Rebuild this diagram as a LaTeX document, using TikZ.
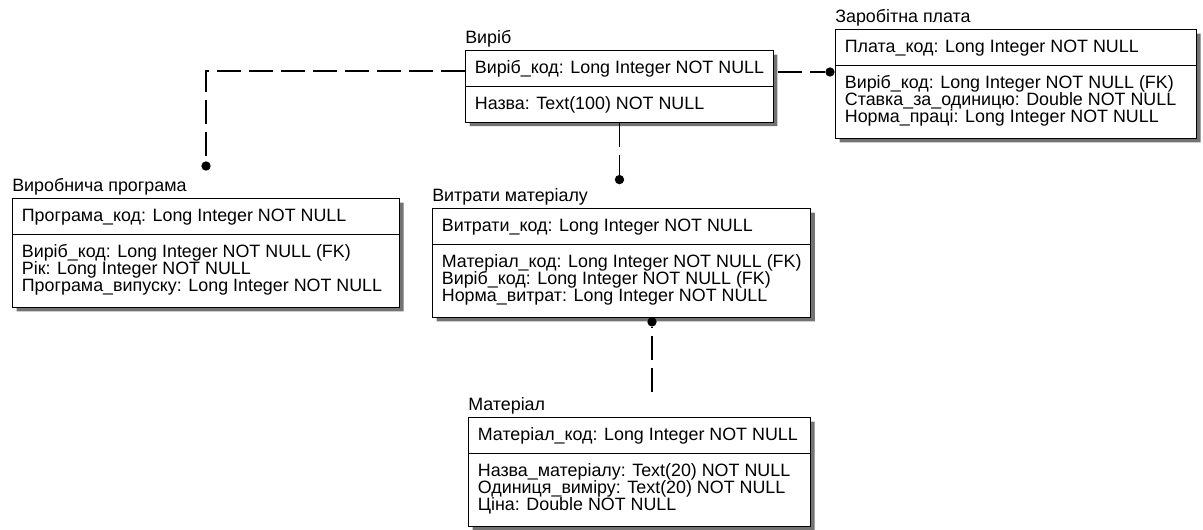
\documentclass[tikz,border=0pt]{standalone}
\usepackage{fontspec}
\setmainfont{Liberation Sans}
\usetikzlibrary{shapes.multipart}
\usetikzlibrary{shadows}
\usetikzlibrary{calc}

% row struts
\newcommand\rs{\rule[-2.25pt]{0pt}{12.75pt}}
\newcommand\lastrs{\rule[-5.25pt]{0pt}{5.25pt}}
\newcommand\erfont{\fontsize{13.4pt}{12.75pt}\selectfont\lineskiplimit=-50pt\lineskip=0pt}

\tikzset{
  entity/.style={draw, line width=0.8pt, fill=white,
    rectangle split, rectangle split parts=2,
    rectangle split part align=left, align=left, anchor=north west,
    inner xsep=7pt, inner ysep=6.375pt, font=\erfont,
    drop shadow={shadow xshift=3pt, shadow yshift=-3pt, fill=black!55, opacity=1}},
  title/.style={anchor=base west, inner sep=0pt, font=\erfont},
  reln/.style={line width=0.9pt, dash pattern=on 18pt off 6pt},
  dot/.style={circle, fill=black, inner sep=0pt, minimum size=7pt}
}

\begin{document}
\begin{tikzpicture}[x=0.75pt, y=-0.75pt]
	\useasboundingbox (0,0) rectangle (1203,529);

	% draw the tables
	\node[entity, minimum width=230.25pt] (vyrib) at (465,50)
		{\rs Виріб\_код: Long Integer NOT NULL
		\nodepart{two}\rs Назва: Text(100) NOT NULL};

	\node[entity, minimum width=270.75pt] (zarplata) at (835,29)
		{\rs Плата\_код: Long Integer NOT NULL
		\nodepart{two}\rs Виріб\_код: Long Integer NOT NULL (FK)\\
		\rs Ставка\_за\_одиницю: Double NOT NULL\\
		\rs Норма\_праці: Long Integer NOT NULL\lastrs};

	\node[entity, minimum width=290.25pt] (vprog) at (12,198)
		{\rs Програма\_код: Long Integer NOT NULL
		\nodepart{two}\rs Виріб\_код: Long Integer NOT NULL (FK)\\
		\rs Рік: Long Integer NOT NULL\\
		\rs Програма\_випуску: Long Integer NOT NULL\lastrs};

	\node[entity, minimum width=282.75pt] (vytraty) at (432,208)
		{\rs Витрати\_код: Long Integer NOT NULL
		\nodepart{two}\rs Матеріал\_код: Long Integer NOT NULL (FK)\\
		\rs Виріб\_код: Long Integer NOT NULL (FK)\\
		\rs Норма\_витрат: Long Integer NOT NULL\lastrs};

	\node[entity, minimum width=256.5pt] (material) at (468,417)
		{\rs Матеріал\_код: Long Integer NOT NULL
		\nodepart{two}\rs Назва\_матеріалу: Text(20) NOT NULL\\
		\rs Одиниця\_виміру: Text(20) NOT NULL\\
		\rs Ціна: Double NOT NULL\lastrs};

	% table names
	\node[title] (t-vyrib) at ([yshift=5pt]vyrib.north west) {Виріб};
	\node[title] (t-zarplata) at ([yshift=5pt]zarplata.north west) {Заробітна плата};
	\node[title] (t-vprog) at ([yshift=5pt]vprog.north west) {Виробнича програма};
	\node[title] (t-vytraty) at ([yshift=5pt]vytraty.north west) {Витрати матеріалу};
	\node[title] (t-material) at ([yshift=5pt]material.north west) {Матеріал};

	% relation ends
	\node[dot] (d-vprog) at ($(vprog.north)+(0,-32)$) {};
	\node[dot] (d-zar) at ($(zarplata.north west)+(-5,43)$) {};
	\node[dot] (d-vyt) at ($(vyrib.south)+(0,57)$) {};
	\node[dot] (d-mat) at ($(vytraty.south west)+(220,4)$) {};
	\coordinate (m-end) at ($(material.north west)+(184,-25)$);

	% relations
	\draw[reln] ($(vyrib.north west)+(0,21)$) -| (d-vprog);
	\draw[reln] ($(vyrib.north east)+(4,22)$) -- (d-zar);
	\draw[reln] (vyrib.south) -- (d-vyt);
	\draw[reln] (m-end) -- (d-mat);

\end{tikzpicture}
\end{document}
